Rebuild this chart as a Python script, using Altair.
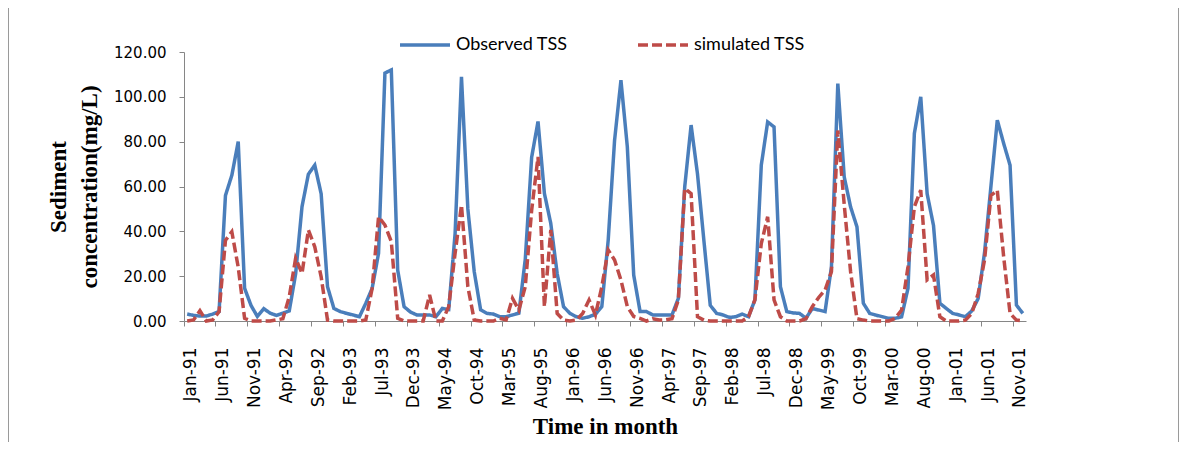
import altair as alt
import pandas as pd

month_names = ["Jan", "Feb", "Mar", "Apr", "May", "Jun",
               "Jul", "Aug", "Sep", "Oct", "Nov", "Dec"]
years = ["91", "92", "93", "94", "95", "96", "97", "98", "99", "00", "01"]

observed = [
    3.1, 2.5, 2.2, 2.2, 3.1, 4.2, 56.0, 65.0, 80.0, 14.6, 7.0, 2.0,
    5.5, 3.5, 2.5, 3.5, 4.5, 21.0, 51.0, 65.5, 69.5, 56.8, 15.3, 5.6,
    4.2, 3.4, 2.7, 1.9, 7.9, 14.6, 30.2, 110.6, 112.0, 22.7, 6.4, 4.0,
    2.7, 2.7, 2.7, 1.9, 5.6, 5.1, 39.0, 108.9, 50.0, 22.0, 5.0, 3.4,
    3.1, 1.9, 1.9, 2.7, 3.5, 27.5, 73.0, 89.0, 56.9, 43.5, 21.2, 6.4,
    3.4, 1.9, 1.2, 1.9, 3.0, 6.4, 36.0, 80.6, 107.4, 77.7, 20.5, 4.2,
    4.2, 2.7, 2.7, 2.7, 2.7, 10.1, 59.9, 87.4, 65.6, 36.0, 7.0, 3.4,
    2.7, 1.6, 1.9, 3.1, 1.9, 9.4, 69.5, 88.8, 86.6, 15.3, 4.2, 3.6,
    3.4, 1.2, 5.6, 4.9, 4.2, 24.2, 105.9, 64.3, 50.9, 42.0, 7.9, 3.4,
    2.6, 1.9, 1.2, 1.2, 1.9, 14.6, 83.7, 100.0, 56.8, 42.6, 7.9, 5.6,
    3.4, 2.7, 1.9, 4.5, 10.0, 30.5, 60.0, 89.6, 79.2, 69.5, 7.1, 3.4,
]

simulated = [
    0.0, 0.5, 4.6, 0.0, 0.5, 4.2, 36.0, 39.8, 24.0, 1.2, 0.0, 0.0,
    0.0, 0.0, 0.5, 1.0, 10.8, 28.0, 21.2, 40.6, 33.1, 19.7, 0.4, 0.0,
    0.0, 0.0, 0.0, 0.0, 0.5, 14.6, 46.5, 42.8, 35.4, 1.2, 0.0, 0.0,
    0.0, 0.0, 11.6, 0.0, 0.0, 6.4, 30.2, 51.7, 15.3, 0.4, 0.0, 0.0,
    0.0, 1.2, 0.5, 10.1, 4.9, 15.3, 49.4, 73.2, 6.4, 40.6, 3.4, 0.4,
    0.0, 0.4, 3.4, 9.4, 2.7, 15.3, 31.7, 27.2, 18.3, 6.4, 2.0, 1.2,
    0.0, 1.0, 0.5, 0.5, 1.0, 9.4, 59.1, 56.8, 1.9, 0.4, 0.0, 0.0,
    0.0, 0.0, 0.0, 0.0, 1.9, 9.4, 34.5, 46.5, 9.4, 1.9, 0.0, 0.0,
    0.0, 1.0, 6.4, 10.5, 13.8, 22.0, 85.0, 52.0, 22.0, 1.0, 0.4, 0.0,
    0.0, 0.0, 0.0, 1.2, 4.9, 24.2, 50.9, 58.4, 18.3, 20.5, 1.9, 0.0,
    0.0, 0.0, 0.4, 3.4, 12.3, 27.2, 56.0, 58.3, 28.6, 3.4, 0.4, 0.0,
]

series_names = ["Observed TSS", "simulated TSS"]
series_colors = ["#4A7EBB", "#BE4B48"]
series_dashes = [[1, 0], [10, 4]]
y_ticks = [0, 20, 40, 60, 80, 100, 120]

month_labels = [f"{m}-{y}" for y in years for m in month_names]
tick_labels = month_labels[::5]

rows = []
for i, lab in enumerate(month_labels):
    rows.append({"month": lab, "series": series_names[0], "value": observed[i]})
    rows.append({"month": lab, "series": series_names[1], "value": simulated[i]})
df = pd.DataFrame(rows)

legend = alt.Legend(
    title=None, orient="none", legendX=214, legendY=-34, direction="horizontal",
    symbolType="stroke", symbolSize=2500, symbolStrokeWidth=3.5,
    labelFont="Lato", labelFontSize=18, labelColor="#000000",
    columnPadding=63, labelOffset=4, padding=0,
)

lines = alt.Chart(df).mark_line(strokeWidth=3.5).encode(
    x=alt.X(
        "month:O", sort=month_labels,
        scale=alt.Scale(type="band", paddingInner=0, paddingOuter=0),
        axis=alt.Axis(
            title="Time in month", values=tick_labels, bandPosition=0,
            labelOffset=4, labelAngle=-90, labelPadding=21, tickSize=5,
            labelFont="DejaVu Sans", labelFontSize=17, labelColor="#000000",
            titleFont="Liberation Serif", titleFontWeight="bold",
            titleFontSize=23, titleColor="#000000", titlePadding=6,
        ),
    ),
    y=alt.Y(
        "value:Q", scale=alt.Scale(domain=[0, 120], nice=False),
        axis=alt.Axis(
            title=["Sediment", "concentration(mg/L)"], values=y_ticks,
            format=".2f", tickSize=5, labelPadding=13,
            labelFont="DejaVu Sans", labelFontSize=15, labelColor="#000000",
            titleFont="Liberation Serif", titleFontWeight="bold",
            titleFontSize=23, titleLineHeight=31, titleColor="#000000",
            titlePadding=12,
        ),
    ),
    color=alt.Color("series:N", scale=alt.Scale(domain=series_names, range=series_colors), legend=legend),
    strokeDash=alt.StrokeDash("series:N", scale=alt.Scale(domain=series_names, range=series_dashes), legend=legend),
)

frame_left = alt.Chart(pd.DataFrame({"k": [0]})).mark_rule(color="#9a9a9a", strokeWidth=1).encode(
    x=alt.value(-175.5), y=alt.value(-44), y2=alt.value(390)
)
frame_right = alt.Chart(pd.DataFrame({"k": [0]})).mark_rule(color="#9a9a9a", strokeWidth=1).encode(
    x=alt.value(994.5), y=alt.value(-44), y2=alt.value(390)
)

chart = alt.layer(frame_left, frame_right, lines).properties(
    width=842, height=269,
    autosize=alt.AutoSizeParams(type="none"),
    padding={"left": 176, "top": 44, "right": 153, "bottom": 121},
).configure_view(stroke=None).configure_axis(
    grid=False, domainColor="#868686", tickColor="#868686", domainWidth=1, tickWidth=1,
)

chart.save("out.html", embed_options={"renderer": "svg", "actions": False})
